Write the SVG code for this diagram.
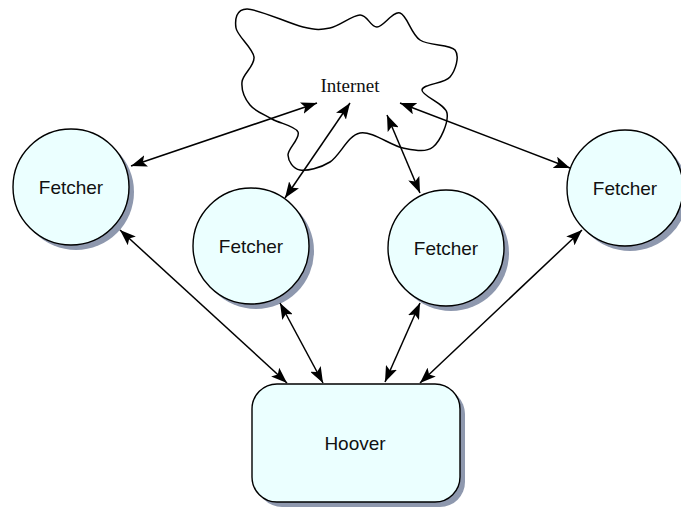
<svg xmlns="http://www.w3.org/2000/svg" width="681" height="509" viewBox="0 0 681 509">
<style>
.shadow{fill:#8E98AE;stroke:none}
.node{fill:#EBFFFF;stroke:#000;stroke-width:1.4}
.lbl{font-family:"Liberation Sans",Arial,sans-serif;font-size:19px;fill:#111;text-anchor:middle}
.inet{font-family:"Liberation Serif","Times New Roman",serif;font-size:19px;fill:#111;text-anchor:middle}
.conn{stroke:#000;stroke-width:1.5;fill:none;marker-start:url(#arr);marker-end:url(#arr)}
</style>
<defs>
<marker id="arr" viewBox="0 0 16 12" refX="16" refY="6" markerWidth="16" markerHeight="12" markerUnits="userSpaceOnUse" orient="auto-start-reverse">
<path d="M0,0 L16,6 L0,12 L3.5,6 Z" fill="#000"/>
</marker>
</defs>
<rect width="681" height="509" fill="#fff"/>
<g id="internet">
<path d="M247,9 C258.2,8.8 289.2,23.8 303,27 C316.8,30.2 320.5,30 330,28 C339.5,26 352.2,15.2 360,15 C367.8,14.8 370.3,27.3 377,27 C383.7,26.7 392.8,10.8 400,13 C407.2,15.2 410.8,33.8 420,40 C429.2,46.2 450,43.8 455,50 C460,56.2 455.5,70.3 450,77 C444.5,83.7 422.5,84 422,90 C421.5,96 445.2,103.5 447,113 C448.8,122.5 440.3,141.2 433,147 C425.7,152.8 415.2,150.3 403,148 C390.8,145.7 372.2,130.7 360,133 C347.8,135.3 340,155.8 330,162 C320,168.2 307,171.2 300,170 C293,168.8 288.3,161.3 288,155 C287.7,148.7 300.7,138 298,132 C295.3,126 280,123.5 272,119 C264,114.5 255,111.2 250,105 C245,98.8 241.3,90 242,82 C242.7,74 255,66 254,57 C253,48 237.2,36 236,28 C234.8,20 235.8,9.2 247,9 Z" fill="none" stroke="#000" stroke-width="1.5"/>
<text class="inet" x="350" y="92">Internet</text>
</g>
<g id="fetcher1">
<circle class="shadow" cx="76" cy="192" r="58"/>
<circle class="node" cx="71" cy="187" r="58"/>
<text class="lbl" x="71" y="194">Fetcher</text>
</g>
<g id="fetcher2">
<circle class="shadow" cx="256" cy="251" r="58"/>
<circle class="node" cx="251" cy="246" r="58"/>
<text class="lbl" x="251" y="253">Fetcher</text>
</g>
<g id="fetcher3">
<circle class="shadow" cx="451" cy="253" r="58"/>
<circle class="node" cx="446" cy="248" r="58"/>
<text class="lbl" x="446" y="255">Fetcher</text>
</g>
<g id="fetcher4">
<circle class="shadow" cx="630" cy="193" r="58"/>
<circle class="node" cx="625" cy="188" r="58"/>
<text class="lbl" x="625" y="195">Fetcher</text>
</g>
<g id="hoover">
<rect class="shadow" x="257" y="389" width="208" height="118" rx="25"/>
<rect class="node" x="252" y="384" width="208" height="118" rx="25"/>
<text class="lbl" x="355" y="450">Hoover</text>
</g>
<g id="connectors">
<line class="conn" x1="131" y1="166" x2="317" y2="103"/>
<line class="conn" x1="285" y1="198" x2="350" y2="103"/>
<line class="conn" x1="420" y1="193" x2="387" y2="115"/>
<line class="conn" x1="570" y1="168" x2="400" y2="103"/>
<line class="conn" x1="120" y1="230" x2="287" y2="383"/>
<line class="conn" x1="280" y1="303" x2="323" y2="383"/>
<line class="conn" x1="420" y1="303" x2="385" y2="382"/>
<line class="conn" x1="582" y1="230" x2="420" y2="383"/>
</g>
</svg>
